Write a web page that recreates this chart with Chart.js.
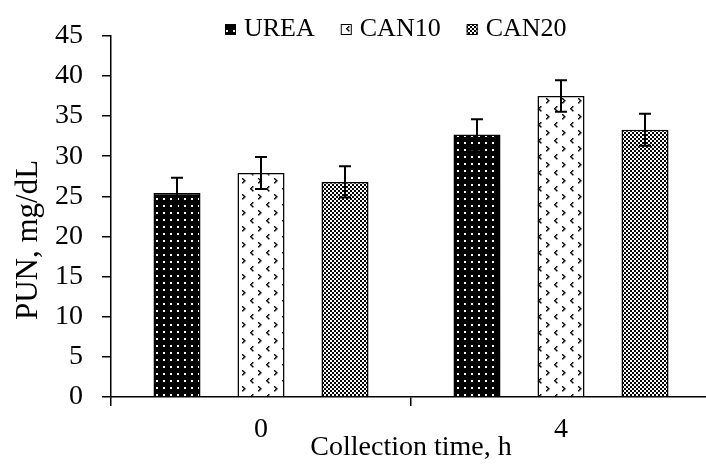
<!DOCTYPE html>
<html>
<head>
<meta charset="utf-8">
<script src="https://cdn.jsdelivr.net/npm/chart.js@4/dist/chart.umd.min.js"></script>
<style>
  html, body { margin: 0; padding: 0; background: #fff; }
  #wrap { width: 706px; height: 467px; }
</style>
</head>
<body>
<div id="wrap"><canvas id="myChart" width="706" height="467"></canvas></div>
<script>
/* DONNEES */
const categories = ['0', '4'];
const seriesNames = ['UREA', 'CAN10', 'CAN20'];
const urea = [25.4, 32.7];
const can10 = [27.9, 37.5];
const can20 = [26.8, 33.3];
const ureaErr = [1.9, 1.9];
const can10Err = [2.0, 1.95];
const can20Err = [1.95, 2.0];
const yTicks = [0, 5, 10, 15, 20, 25, 30, 35, 40, 45];
const yTitle = 'PUN, mg/dL';

const serif = "'Times New Roman', 'Liberation Serif', serif";

/* MOTIFS DES BARRES */
function makePattern(w, h, draw) {
    const c = document.createElement('canvas');
    c.width = w; c.height = h;
    const g = c.getContext('2d');
    draw(g);
    return g.createPattern(c, 'repeat');
}

const dots = makePattern(7, 7, function (g) {
    g.fillStyle = '#000'; g.fillRect(0, 0, 7, 7);
    g.fillStyle = '#fff'; g.fillRect(2, 2, 2, 2);
});

const chevrons = makePattern(16, 16, function (g) {
    g.fillStyle = '#fff'; g.fillRect(0, 0, 16, 16);
    g.fillStyle = '#000';
    [[2, 2], [3, 3], [4, 4], [3, 5], [2, 6]].forEach(p => g.fillRect(p[0], p[1], 1.5, 1.5));
    [[12, 10], [11, 11], [10, 12], [11, 13], [12, 14]].forEach(p => g.fillRect(p[0], p[1], 1.5, 1.5));
});

const checker = makePattern(4, 4, function (g) {
    g.fillStyle = '#fff'; g.fillRect(0, 0, 4, 4);
    g.fillStyle = '#000'; g.fillRect(0, 0, 2, 2); g.fillRect(2, 2, 2, 2);
});

const errors = [ureaErr, can10Err, can20Err];

/* BARRES D'ERREUR */
const errorBars = {
    id: 'errorBars',
    afterDatasetsDraw(chart) {
        const ctx = chart.ctx;
        const y = chart.scales.y;
        ctx.save();
        ctx.strokeStyle = '#000';
        ctx.lineWidth = 2;
        chart.data.datasets.forEach(function (ds, i) {
            chart.getDatasetMeta(i).data.forEach(function (bar, j) {
                const v = ds.data[j], e = errors[i][j];
                const top = y.getPixelForValue(v + e);
                const bot = y.getPixelForValue(v - e);
                ctx.beginPath();
                ctx.moveTo(bar.x, top); ctx.lineTo(bar.x, bot);
                ctx.moveTo(bar.x - 6, top); ctx.lineTo(bar.x + 6, top);
                ctx.moveTo(bar.x - 6, bot); ctx.lineTo(bar.x + 6, bot);
                ctx.stroke();
            });
        });
        ctx.restore();
    }
};

/* LEGENDE EN HAUT + TITRE Y */
const topLegend = {
    id: 'topLegend',
    afterDraw(chart) {
        const ctx = chart.ctx;
        ctx.save();
        ctx.font = '26px ' + serif;
        ctx.textBaseline = 'middle';
        ctx.lineWidth = 1;
        let x = 225;
        const yc = 29.5;
        chart.data.datasets.forEach(function (ds) {
            ctx.fillStyle = ds.backgroundColor;
            ctx.fillRect(x, yc - 5.5, 11, 11);
            ctx.strokeStyle = '#000';
            ctx.strokeRect(x + 0.5, yc - 5, 10, 10);
            ctx.fillStyle = '#000';
            ctx.fillText(ds.label, x + 19, yc);
            x += 19 + ctx.measureText(ds.label).width + 26;
        });
        // titre de l'axe Y, un peu plus bas que le centre du graphique
        ctx.translate(29, 240);
        ctx.rotate(-Math.PI / 2);
        ctx.font = '31px ' + serif;
        ctx.textAlign = 'center';
        ctx.fillText(yTitle, 0, 0);
        ctx.restore();
    }
};

/* L'AXE X DEPASSE UN PEU LE BORD */
const stretchX = {
    id: 'stretchX',
    afterLayout(chart) {
        const s = chart.scales.x;
        s.right += 5;
        s.width += 5;
        s.configure();
        chart.chartArea.right = s.right;
        chart.chartArea.width = s.right - chart.chartArea.left;
    }
};

Chart.defaults.font.family = serif;
Chart.defaults.color = '#000';

const ctx = document.getElementById('myChart').getContext('2d');
const myChart = new Chart(ctx, {
    type: 'bar',
    data: {
        labels: categories,
        datasets: [
            { label: seriesNames[0], data: urea, backgroundColor: dots, borderColor: '#000', borderWidth: 1.5 },
            { label: seriesNames[1], data: can10, backgroundColor: chevrons, borderColor: '#000', borderWidth: 1.5 },
            { label: seriesNames[2], data: can20, backgroundColor: checker, borderColor: '#000', borderWidth: 1.5 }
        ]
    },
    options: {
        responsive: false,
        animation: false,
        events: [],
        categoryPercentage: 0.84,
        barPercentage: 0.56,
        layout: { padding: { top: 22, left: 0, right: 0, bottom: 0 } },
        plugins: {
            legend: { display: false },
            tooltip: { enabled: false }
        },
        scales: {
            x: {
                offset: true,
                grid: { display: true, drawOnChartArea: false, color: '#000', lineWidth: 1.5, tickLength: 9 },
                border: { display: true, color: '#000', width: 1.5 },
                ticks: { font: { size: 28 }, padding: 7, maxRotation: 0 },
                title: { display: true, text: 'Collection time, h', font: { size: 28 }, padding: { top: 0, bottom: 3 } },
                afterFit: function (scale) { scale.height = 70; }
            },
            y: {
                min: 0,
                max: 45,
                afterBuildTicks: function (scale) { scale.ticks = yTicks.map(v => ({ value: v })); },
                grid: { display: true, drawOnChartArea: false, color: '#000', lineWidth: 1.5, tickLength: 9 },
                border: { display: true, color: '#000', width: 1.5 },
                ticks: { font: { size: 28 }, padding: 19 },
                afterFit: function (scale) { scale.width = 111; }
            }
        }
    },
    plugins: [stretchX, errorBars, topLegend]
});
</script>
</body>
</html>
